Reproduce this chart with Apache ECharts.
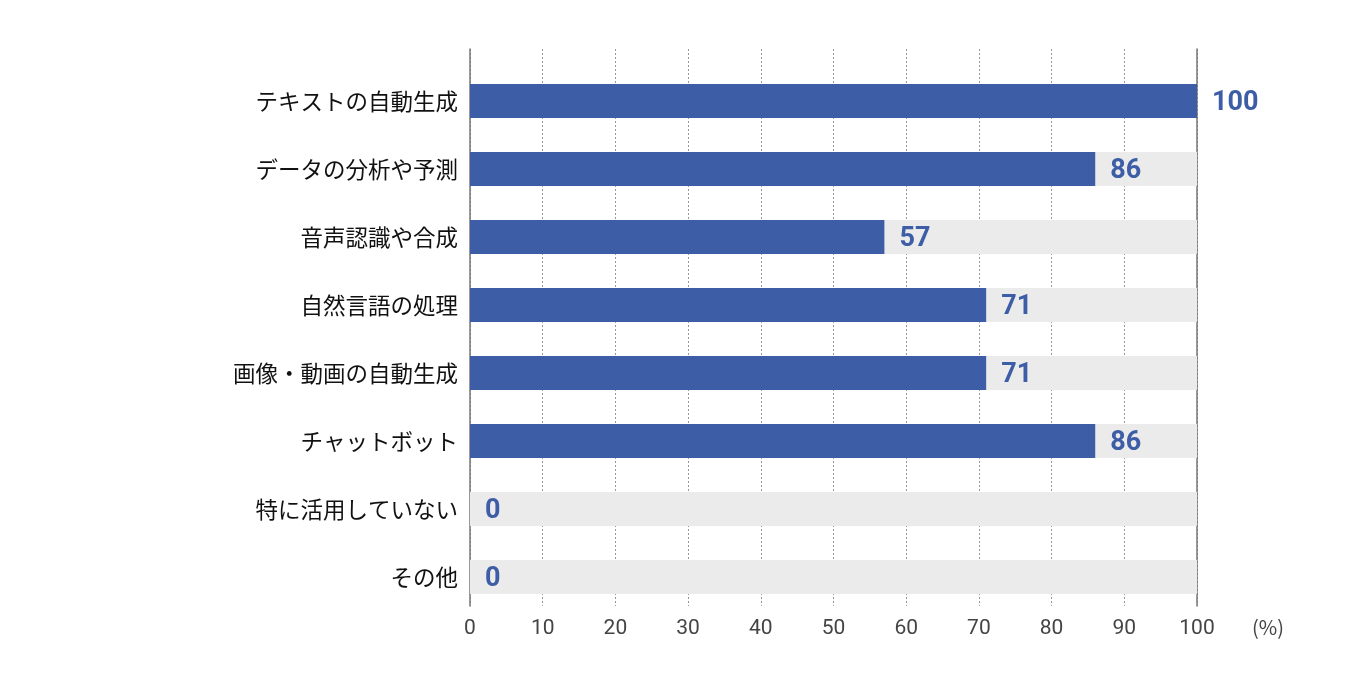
<!DOCTYPE html>
<html>
<head>
<meta charset="utf-8">
<script src="https://cdn.jsdelivr.net/npm/echarts@6/dist/echarts.min.js"></script>
<style>
  html, body { margin: 0; padding: 0; background: #fff; }
  #chart { width: 1346px; height: 685px; }
</style>
</head>
<body>
<div id="chart"></div>
<script>
// Chart data
const categories = [
    'テキストの自動生成',
    'データの分析や予測',
    '音声認識や合成',
    '自然言語の処理',
    '画像・動画の自動生成',
    'チャットボット',
    '特に活用していない',
    'その他'
];
const values = [100, 86, 57, 71, 71, 86, 0, 0];
const tickValues = [0, 10, 20, 30, 40, 50, 60, 70, 80, 90, 100];

const barColor = '#3d5ea6';
const chart = echarts.init(document.getElementById('chart'));

const option = {
    backgroundColor: '#fff',
    animation: false,
    grid: [
        // grid 0: axis frame and dotted grid lines (taller than the bars)
        { left: 470, right: 149, top: 49, bottom: 79 },
        // grid 1: the bars
        { left: 470, right: 149, top: 67, bottom: 74 }
    ],
    xAxis: [
        {
            gridIndex: 0,
            type: 'value',
            min: 0,
            max: 100,
            interval: 10,
            axisLine: { show: false },
            axisTick: { show: false },
            axisLabel: {
                color: '#444',
                fontFamily: 'Roboto',
                fontSize: 21,
                margin: 12,
                formatter: v => tickValues.includes(v) ? String(v) : ''
            },
            splitLine: {
                show: true,
                lineStyle: { color: '#999', type: [2, 2], width: 1 }
            }
        },
        {
            gridIndex: 1,
            type: 'value',
            min: 0,
            max: 100,
            show: false
        }
    ],
    yAxis: [
        {
            gridIndex: 0,
            type: 'category',
            data: [''],
            position: 'left',
            axisLine: { show: true, lineStyle: { color: '#777', width: 1.5 } },
            axisTick: { show: false },
            axisLabel: { show: false }
        },
        {
            gridIndex: 0,
            type: 'category',
            data: [''],
            position: 'right',
            axisLine: { show: true, lineStyle: { color: '#777', width: 1.5 } },
            axisTick: { show: false },
            axisLabel: { show: false }
        },
        {
            gridIndex: 1,
            type: 'category',
            data: categories,
            inverse: true,
            axisLine: { show: false },
            axisTick: { show: false },
            axisLabel: {
                color: '#111',
                fontFamily: 'Noto Sans CJK JP',
                fontSize: 22.5,
                margin: 12
            }
        }
    ],
    series: [{
        type: 'bar',
        xAxisIndex: 1,
        yAxisIndex: 2,
        data: values,
        barWidth: 34,
        itemStyle: { color: barColor },
        showBackground: true,
        backgroundStyle: { color: '#ebebeb' },
        label: {
            show: true,
            position: 'right',
            distance: 15,
            offset: [0, 2],
            color: barColor,
            fontFamily: 'Roboto',
            fontWeight: 'bold',
            fontSize: 27
        }
    }],
    graphic: [{
        type: 'text',
        left: 1252,
        top: 617,
        style: {
            text: '(%)',
            fill: '#444',
            font: '20px "Noto Sans CJK JP"'
        }
    }]
};

chart.setOption(option);
</script>
</body>
</html>
